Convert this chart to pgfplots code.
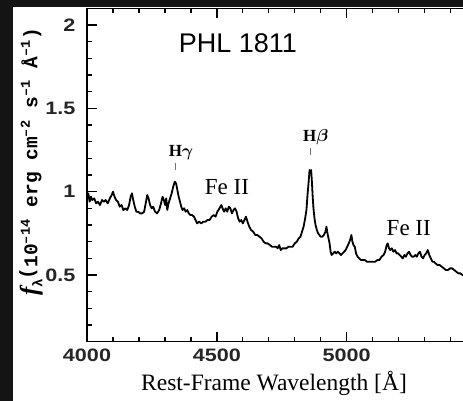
\documentclass[border=0pt]{standalone}
\usepackage{fontspec}
\usepackage{amsmath}
\usepackage{pgfplots}
\pgfplotsset{compat=1.18}
\setmainfont{Liberation Serif}
\newfontfamily\tickfont[FakeStretch=1.2]{Liberation Sans}
\newfontfamily\titlefont{Liberation Sans}
\newfontfamily\ylabfont{Liberation Mono}

% Rest-frame optical spectrum of PHL 1811 (wavelength in Angstrom, flux in 1e-14 erg/cm2/s/A)
\pgfplotstableread{
lam   flux
4000 0.96
4005 0.99
4010 0.94
4015 0.97
4020 0.95
4028 0.96
4035 0.93
4042 0.94
4050 0.92
4058 0.95
4065 0.94
4072 0.95
4080 0.93
4088 0.96
4095 0.98
4100 1.00
4106 0.97
4112 0.95
4119 0.94
4126 0.91
4133 0.92
4140 0.89
4148 0.90
4155 0.89
4162 0.92
4168 0.97
4173 0.99
4178 0.95
4184 0.91
4190 0.88
4197 0.88
4204 0.87
4212 0.87
4220 0.88
4226 0.93
4232 0.98
4237 0.96
4243 0.92
4249 0.90
4255 0.91
4262 0.88
4270 0.87
4278 0.89
4285 0.93
4291 0.97
4296 0.95
4301 0.92
4305 0.96
4309 0.89
4314 0.93
4320 0.96
4326 0.99
4332 1.03
4338 1.06
4343 1.05
4348 1.01
4353 0.97
4358 0.94
4363 0.91
4368 0.89
4374 0.90
4380 0.88
4386 0.89
4392 0.87
4398 0.86
4405 0.86
4412 0.85
4418 0.83
4424 0.81
4432 0.82
4440 0.81
4448 0.82
4456 0.82
4464 0.83
4472 0.83
4480 0.85
4488 0.86
4495 0.85
4502 0.88
4510 0.90
4517 0.92
4522 0.90
4528 0.88
4534 0.90
4540 0.88
4546 0.91
4552 0.90
4558 0.87
4564 0.89
4570 0.90
4576 0.88
4582 0.84
4588 0.82
4594 0.83
4600 0.81
4606 0.83
4612 0.85
4618 0.82
4625 0.79
4632 0.77
4640 0.76
4648 0.74
4656 0.74
4664 0.73
4672 0.72
4680 0.70
4688 0.69
4696 0.69
4704 0.68
4712 0.67
4720 0.67
4728 0.67
4734 0.66
4740 0.68
4746 0.65
4752 0.66
4760 0.66
4768 0.66
4776 0.67
4784 0.67
4792 0.67
4800 0.69
4808 0.70
4815 0.72
4822 0.73
4828 0.76
4834 0.79
4840 0.84
4845 0.89
4849 0.98
4853 1.05
4857 1.13
4860 1.12
4863 1.13
4866 1.06
4869 0.97
4872 0.90
4876 0.84
4880 0.80
4885 0.77
4890 0.75
4895 0.74
4900 0.73
4906 0.73
4912 0.74
4918 0.76
4922 0.79
4926 0.75
4930 0.72
4934 0.69
4938 0.64
4942 0.62
4948 0.63
4954 0.64
4960 0.63
4966 0.64
4972 0.63
4978 0.62
4984 0.63
4990 0.64
4996 0.65
5002 0.67
5008 0.69
5013 0.71
5018 0.74
5022 0.70
5026 0.68
5031 0.67
5036 0.63
5042 0.61
5048 0.60
5055 0.59
5062 0.59
5070 0.59
5078 0.58
5086 0.58
5094 0.58
5102 0.58
5110 0.58
5118 0.59
5126 0.59
5134 0.61
5142 0.62
5148 0.64
5154 0.68
5158 0.69
5163 0.66
5168 0.65
5174 0.66
5180 0.64
5186 0.65
5192 0.63
5198 0.63
5204 0.62
5210 0.61
5216 0.60
5222 0.62
5228 0.61
5234 0.63
5240 0.64
5246 0.62
5252 0.61
5258 0.61
5264 0.62
5270 0.61
5276 0.63
5282 0.64
5288 0.61
5294 0.60
5300 0.62
5306 0.63
5312 0.65
5318 0.62
5324 0.60
5330 0.58
5336 0.58
5342 0.57
5350 0.56
5358 0.56
5366 0.55
5374 0.54
5382 0.53
5390 0.53
5398 0.54
5406 0.54
5414 0.53
5422 0.52
5430 0.51
5438 0.51
5446 0.50
5455 0.50
5465 0.49
5475 0.49
}\spectrum

\begin{document}
\begin{tikzpicture}
\useasboundingbox (0,0) rectangle (463pt,401pt);
\clip (0,0) rectangle (463pt,401pt);
\fill[black!92] (0,0) rectangle (463pt,401pt);
\fill[white] (13pt,0) rectangle (463pt,394pt);
\begin{axis}[
  at={(87pt,59.3pt)}, anchor=south west,
  x=0.2597pt, y=166.67pt,
  xmin=4000, xmax=5500, ymin=0.1, ymax=2.1,
  axis line style={line width=1.6pt},
  tick style={black, line width=1.3pt},
  major tick length=10pt, minor tick length=5pt,
  tick align=inside,
  xtick={4000,4500,5000}, xticklabels={4000,4500,5000},
  ytick={0.5,1,1.5,2}, yticklabels={0.5,1,1.5,2},
  minor xtick={4100,4200,4300,4400,4600,4700,4800,4900,5100,5200,5300,5400},
  minor ytick={0.2,0.3,0.4,0.6,0.7,0.8,0.9,1.1,1.2,1.3,1.4,1.6,1.7,1.8,1.9,2.1},
  /pgf/number format/assume math mode=true,
  ticklabel style={font=\tickfont\bfseries\fontsize{18}{18}\selectfont, text=black!85},
  xticklabel style={yshift=-4pt},
  yticklabel style={xshift=-8pt},
]
\addplot[black, line width=1.8pt, line join=round] table[x=lam, y=flux] {\spectrum};
\draw[black!55, line width=0.9pt] (axis cs:4342,1.13) -- (axis cs:4342,1.172);
\draw[black!55, line width=0.9pt] (axis cs:4862,1.22) -- (axis cs:4862,1.262);
\node[font=\bfseries\fontsize{17}{17}\selectfont] at (axis cs:4362,1.232) {H$\boldsymbol{\gamma}$};
\node[font=\bfseries\fontsize{17}{17}\selectfont] at (axis cs:4881,1.328) {H$\boldsymbol{\beta}$};
\node[font=\fontsize{23}{23}\selectfont] at (axis cs:4539,1.028) {Fe II};
\node[font=\fontsize{23}{23}\selectfont] at (axis cs:5239,0.782) {Fe II};
\node[font=\titlefont\fontsize{27}{27}\selectfont] at (axis cs:4581,1.892) {PHL 1811};
\end{axis}
\node[font=\fontsize{23.5}{23.5}\selectfont] at (274pt,18pt) {Rest-Frame Wavelength [Å]};
\node[rotate=90, font=\ylabfont\bfseries\fontsize{19.5}{19.5}\selectfont] at (31pt,239pt)
  {{\rmfamily\itshape\fontsize{25}{25}\selectfont f}\raisebox{-5pt}{\fontsize{14}{14}\selectfont λ}\raisebox{4pt}{(}10\textsuperscript{–14} erg cm\textsuperscript{–2} s\textsuperscript{–1} Å\textsuperscript{–1})};
\end{tikzpicture}
\end{document}
